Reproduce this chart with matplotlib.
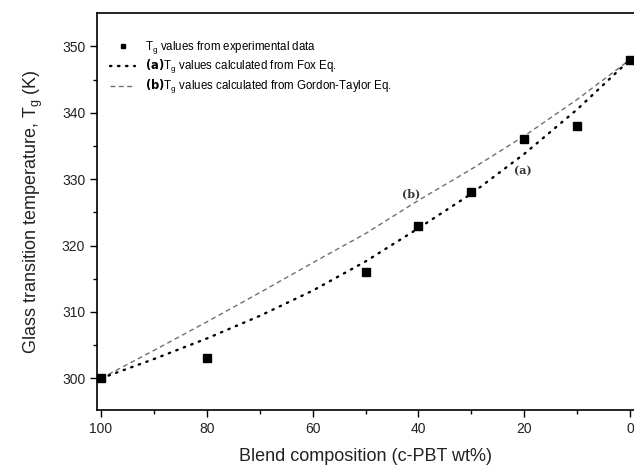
import numpy as np
from matplotlib import pyplot as plt

plt.rcParams['font.family'] = ['Liberation Sans', 'DejaVu Sans']

# experimental Tg values (K) vs c-PBT wt%
exp_x = [100, 80, 50, 40, 30, 20, 10, 0]
exp_tg = [300, 303, 316, 323, 328, 336, 338, 348]

# curves
curve_x = [100, 90, 80, 70, 60, 50, 40, 30, 20, 10, 0]
fox_tg = [300, 302.9, 306.0, 309.4, 313.2, 317.6, 322.6, 327.8, 333.8, 340.5, 348]
gt_tg = [300, 304.2, 308.5, 312.9, 317.4, 321.8, 326.8, 331.5, 336.5, 342.0, 348]

figure = plt.figure(figsize=(6.34, 4.72), dpi=100)
axes = figure.add_axes([0.153, 0.131, 0.847, 0.841])

axes.plot(curve_x, gt_tg, color='#707070', linewidth=1.0,
          linestyle=(0, (3.5, 2.5)),
          label=r'$\mathbf{(b)}$T$_\mathregular{g}$ values calculated from Gordon-Taylor Eq.')
axes.plot(curve_x, fox_tg, color='black', linewidth=1.7,
          linestyle=(0, (0.6, 2.8)), dash_capstyle='round',
          label=r'$\mathbf{(a)}$T$_\mathregular{g}$ values calculated from Fox Eq.')
axes.plot(exp_x, exp_tg, 's', color='black', markersize=5.5, clip_on=False,
          label=r'T$_\mathregular{g}$ values from experimental data')

axes.text(20.2, 331.3, '(a)', family='DejaVu Serif', fontsize=8,
          fontweight='bold', color='#333333', ha='center', va='center')
axes.text(41.3, 327.8, '(b)', family='DejaVu Serif', fontsize=8,
          fontweight='bold', color='#333333', ha='center', va='center')

axes.set_xlim(100.76, -0.76)
axes.set_ylim(295.2, 355)
axes.set_xticks([100, 80, 60, 40, 20, 0])
axes.set_xticks([90, 70, 50, 30, 10], minor=True)
axes.set_yticks([300, 310, 320, 330, 340, 350])
axes.set_yticks([305, 315, 325, 335, 345], minor=True)
axes.tick_params(which='major', direction='out', length=5, width=1,
                 labelsize=10, labelcolor='#222222')
axes.tick_params(which='minor', direction='out', length=3, width=1)
axes.spines['right'].set_visible(False)
for side in ['left', 'bottom', 'top']:
    axes.spines[side].set_linewidth(1.2)

axes.set_xlabel('Blend composition (c-PBT wt%)', fontsize=13, labelpad=9,
                color='#222222')
axes.set_ylabel(r'Glass transition temperature, T$_\mathregular{g}$ (K)',
                fontsize=13, labelpad=12, color='#222222')

handles, labels = axes.get_legend_handles_labels()
order = [2, 1, 0]
legend = axes.legend([handles[i] for i in order], [labels[i] for i in order],
                     loc='upper left', bbox_to_anchor=(0.005, 0.96),
                     frameon=False, fontsize=8.3, handlelength=2.2,
                     handletextpad=0.8, labelspacing=0.15, markerscale=0.6)

figure.savefig('out.png', dpi=100)
